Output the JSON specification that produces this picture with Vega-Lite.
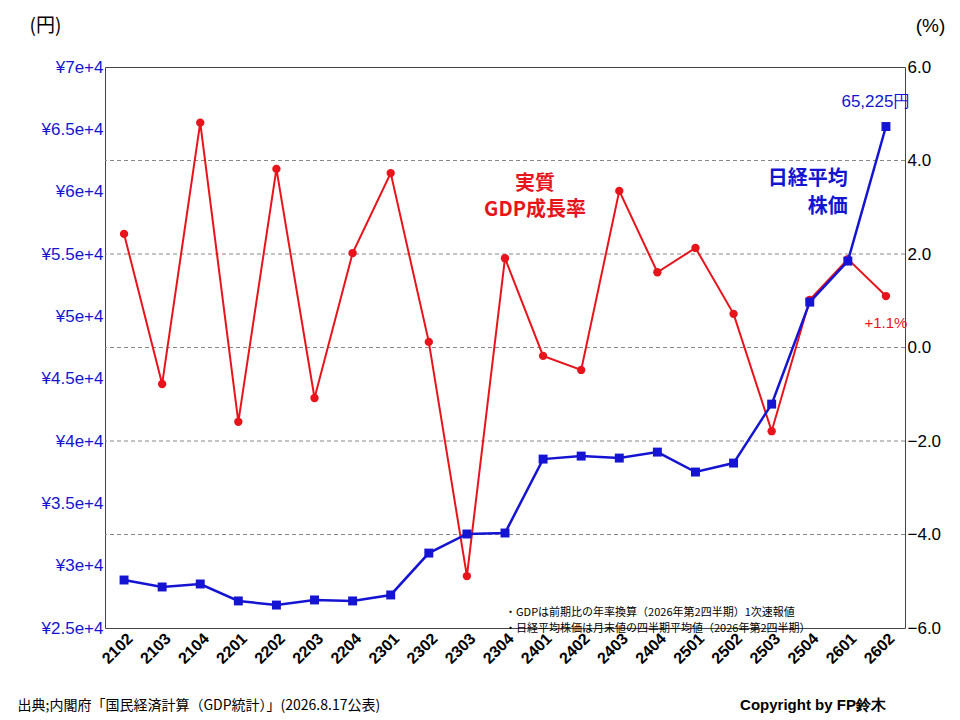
{
"$schema":"https://vega.github.io/schema/vega-lite/v6.json",
"width":800,"height":561,
"autosize":{"type":"none"},
"padding":{"left":105,"top":67,"right":55,"bottom":92},
"background":"white",
"title":{"text":"四半期毎の経済成長率（GDP）と日経平均株価推移","font":"Noto Sans CJK JP","fontSize":24,"fontWeight":"bold","color":"black","offset":22,"anchor":"middle"},
"config":{"font":"Noto Sans CJK JP","view":{"stroke":"#444"},"axis":{"labelFont":"Liberation Sans","labelFontSize":17,"ticks":false,"domain":false}},
"data":{"values":[
{"q":"2102","nk":28850,"gdp":2.43},{"q":"2103","nk":28290,"gdp":-0.78},{"q":"2104","nk":28530,"gdp":4.81},
{"q":"2201","nk":27170,"gdp":-1.59},{"q":"2202","nk":26840,"gdp":3.82},{"q":"2203","nk":27250,"gdp":-1.08},
{"q":"2204","nk":27170,"gdp":2.02},{"q":"2301","nk":27650,"gdp":3.73},{"q":"2302","nk":31010,"gdp":0.12},
{"q":"2303","nk":32540,"gdp":-4.89},{"q":"2304","nk":32620,"gdp":1.91},{"q":"2401","nk":38550,"gdp":-0.18},
{"q":"2402","nk":38790,"gdp":-0.48},{"q":"2403","nk":38630,"gdp":3.35},{"q":"2404","nk":39110,"gdp":1.61},
{"q":"2501","nk":37510,"gdp":2.13},{"q":"2502","nk":38230,"gdp":0.72},{"q":"2503","nk":42960,"gdp":-1.79},
{"q":"2504","nk":51140,"gdp":1.02},{"q":"2601","nk":54430,"gdp":1.89},{"q":"2602","nk":65225,"gdp":1.1}
]},
"encoding":{"x":{"field":"q","type":"ordinal","scale":{"paddingOuter":0.5},"axis":{"labelAngle":-45,"labelFontWeight":"bold","labelFontSize":16,"title":"出典;内閣府「国民経済計算（GDP統計）」(2026.8.17公表)","titleFont":"Noto Sans CJK JP","titleFontSize":14,"titleFontWeight":"normal","titleAnchor":"start","titleX":-88,"titleY":70,"grid":false}}},
"layer":[
{"encoding":{"y":{"field":"gdp","type":"quantitative","scale":{"domain":[-6,6]},"axis":{"orient":"right","values":[-6,-4,-2,0,2,4,6],"format":".1f","labelColor":"black","title":"(%)","titleAngle":0,"titleAnchor":"end","titleAlign":"center","titleBaseline":"bottom","titleX":25,"titleY":-32,"titleFont":"Liberation Sans","titleFontSize":19,"titleFontWeight":"normal","grid":false}}},
 "layer":[
 {"mark":{"type":"rule","stroke":"#888","strokeDash":[4,3],"strokeWidth":1},"data":{"values":[{"gdp":-4},{"gdp":-2},{"gdp":0},{"gdp":2},{"gdp":4}]},"encoding":{"x":null}},
 {"mark":{"type":"line","color":"#e8141b","strokeWidth":2}},
 {"mark":{"type":"circle","color":"#e8141b","size":70,"opacity":1}},
 {"mark":{"type":"text","color":"#e8141b","fontSize":15,"dy":27,"font":"Liberation Sans"},"transform":[{"filter":"datum.q=='2602'"}],"encoding":{"text":{"value":"+1.1%"}}},
 {"mark":{"type":"text","color":"#e8141b","fontSize":20,"fontWeight":"bold","lineHeight":26,"dx":-8},"data":{"values":[{"q":"2401","gdp":3.5}]},"encoding":{"text":{"value":["実質","GDP成長率"]}}}
]},
{"encoding":{"y":{"field":"nk","type":"quantitative","scale":{"domain":[25000,70000]},"axis":{"orient":"left","values":[25000,30000,35000,40000,45000,50000,55000,60000,65000,70000],"format":",","labelExpr":"'¥'+datum.label","labelColor":"#1414d2","title":"(円)","titleAngle":0,"titleAnchor":"end","titleAlign":"center","titleBaseline":"bottom","titleX":-60,"titleY":-32,"titleFontSize":19,"titleFontWeight":"normal","grid":false}}},
 "layer":[
 {"mark":{"type":"line","color":"#1414d2","strokeWidth":2.5}},
 {"mark":{"type":"square","color":"#1414d2","size":80,"opacity":1,"filled":true}},
 {"mark":{"type":"text","color":"#1414d2","fontSize":17,"dy":-25,"dx":-10,"font":"Liberation Sans"},"transform":[{"filter":"datum.q=='2602'"}],"encoding":{"text":{"value":"65,225円"}}},
 {"mark":{"type":"text","color":"#1414d2","fontSize":20,"fontWeight":"bold","lineHeight":28,"align":"right"},"data":{"values":[{"q":"2601","nk":61000}]},"encoding":{"text":{"value":["日経平均","株価"]}}},
 {"mark":{"type":"text","color":"black","fontSize":11,"align":"left","lineHeight":16},"data":{"values":[{"q":"2304","nk":26200}]},"encoding":{"text":{"value":["・GDPは前期比の年率換算（2026年第2四半期）1次速報値","・日経平均株価は月末値の四半期平均値（2026年第2四半期）"]}}},
 {"mark":{"type":"text","color":"black","fontSize":15,"fontWeight":"bold","align":"right","font":"Liberation Sans"},"data":{"values":[{"q":"2602","nk":18800}]},"encoding":{"text":{"value":"Copyright by FP鈴木"}}}
]}
],
"resolve":{"scale":{"y":"independent"}}
}
